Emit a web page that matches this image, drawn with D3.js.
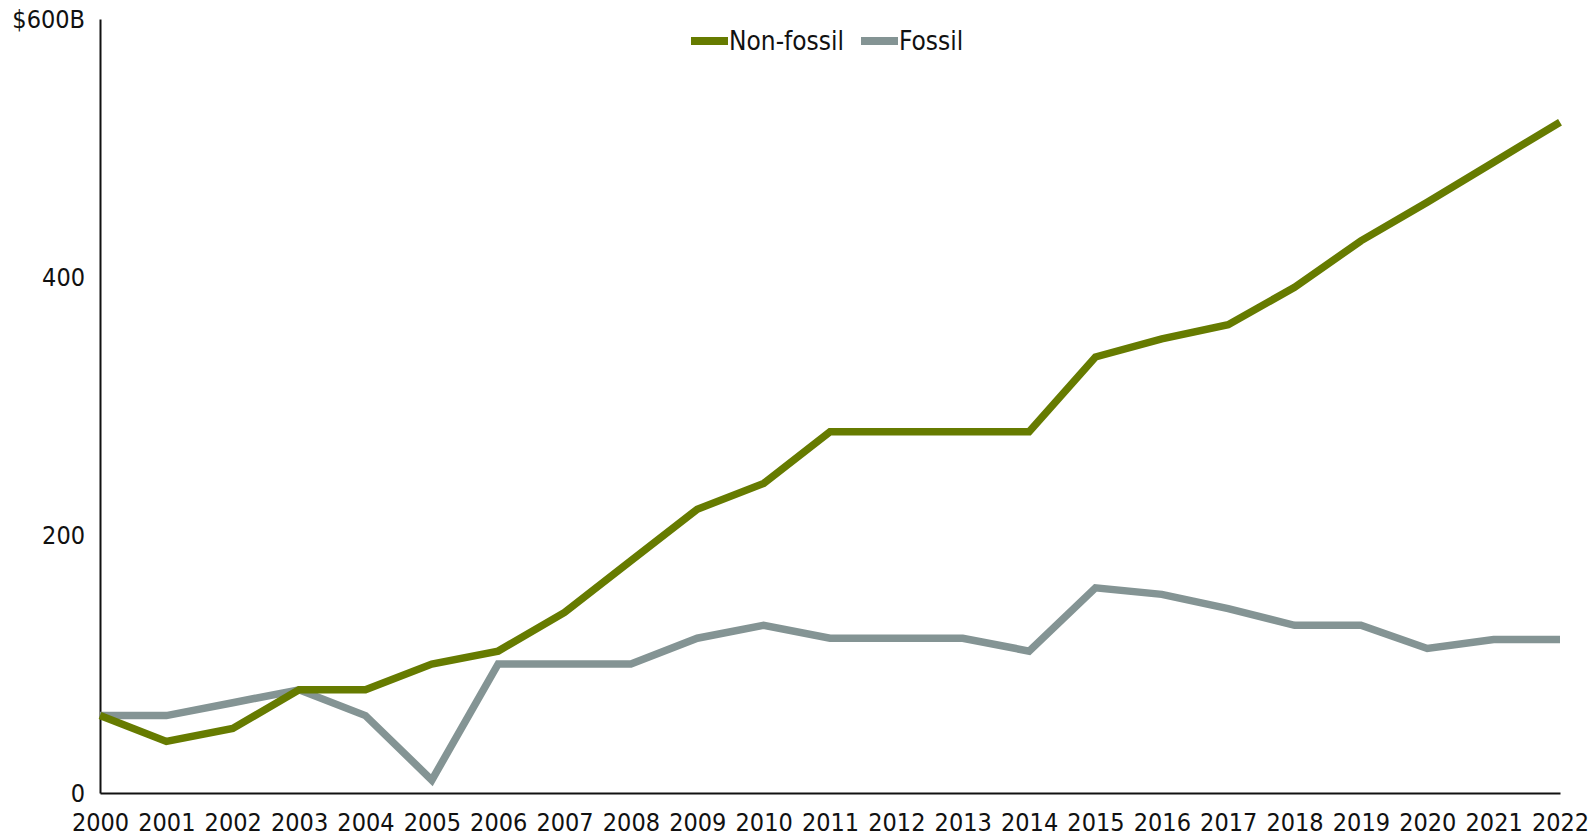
<!DOCTYPE html>
<html>
  <head>
    <title>Energy investment</title>
    <script type="text/javascript" src="https://cdn.jsdelivr.net/npm/d3@7"></script>
    <style>
      body { margin: 0; background: #fff; }
      text { font-family: "DejaVu Sans Condensed", "DejaVu Sans", sans-serif; fill: #111; }
    </style>
  </head>
  <body>
    <svg width="1590" height="836"></svg>
    <script>
      var years = d3.range(2000, 2023);
      var nonFossil = [60, 40, 50, 80, 80, 100, 110, 140, 180, 220, 240, 280, 280, 280, 280,
                       338, 352, 363, 392, 428, 458, 489, 520];
      var fossil = [60, 60, 70, 80, 60, 10, 100, 100, 100, 120, 130, 120, 120, 120, 110,
                    159, 154, 143, 130, 130, 112, 119, 119];
      var seriesNames = ["Non-fossil", "Fossil"];
      var seriesColors = ["#667b00", "#849494"];
      var yTicks = [0, 200, 400, 600];

      var marge = {top: 19, bottom: 43, left: 100, right: 30};
      var svg = d3.select("svg");
      var width = +svg.attr("width");
      var height = +svg.attr("height");

      var x = d3.scaleLinear()
        .domain([2000, 2022])
        .range([marge.left, width - marge.right]);
      var y = d3.scaleLinear()
        .domain([0, 600])
        .range([height - marge.bottom, marge.top]);

      // y axis
      var yAxis = svg.append("g")
        .attr("transform", "translate(" + marge.left + ",0)")
        .call(d3.axisLeft(y)
          .tickValues(yTicks)
          .tickSize(0)
          .tickPadding(15)
          .tickFormat(function(d){ return d === 600 ? "$600B" : d; }));
      yAxis.select(".domain").attr("stroke", "#111").attr("stroke-width", 2);
      yAxis.selectAll("text").style("font-size", "25px");

      // x axis
      var xAxis = svg.append("g")
        .attr("transform", "translate(0," + y(0) + ")")
        .call(d3.axisBottom(x)
          .tickValues(years)
          .tickSize(0)
          .tickPadding(20)
          .tickFormat(d3.format("d")));
      xAxis.select(".domain").attr("stroke", "#111").attr("stroke-width", 2);
      xAxis.selectAll("text").style("font-size", "25px");

      var line = d3.line()
        .x(function(d, i){ return x(years[i]); })
        .y(function(d){ return y(d); });

      // fossil first so the green line sits on top where they meet
      [fossil, nonFossil].forEach(function(vals, k){
        var idx = k === 0 ? 1 : 0;
        svg.append("path")
          .datum(vals)
          .attr("d", line)
          .attr("fill", "none")
          .attr("stroke", seriesColors[idx])
          .attr("stroke-width", 7.5);
      });

      // legend
      var legendX = [691, 861];
      var lg = svg.selectAll(".legend")
        .data(seriesNames)
        .enter()
        .append("g")
        .attr("transform", function(d, i){ return "translate(" + legendX[i] + ",41)"; });
      lg.append("line")
        .attr("x1", 0).attr("x2", 37)
        .attr("stroke", function(d, i){ return seriesColors[i]; })
        .attr("stroke-width", 8);
      lg.append("text")
        .attr("x", 38)
        .attr("dy", "0.35em")
        .style("font-size", "26px")
        .text(function(d){ return d; });
    </script>
  </body>
</html>
